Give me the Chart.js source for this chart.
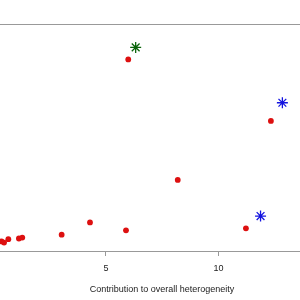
<!DOCTYPE html>
<html>
<head>
<meta charset="utf-8">
<script src="https://cdn.jsdelivr.net/npm/chart.js@4"></script>
<style>
  html, body { margin: 0; padding: 0; background: #fff; overflow: hidden; }
  /* the plot box is wider than the view, as in the cropped original */
  #wrap { width: 300px; height: 300px; overflow: hidden; }
</style>
</head>
<body>
<div id="wrap"><canvas id="baujat" width="324" height="300"></canvas></div>
<script>
// studies (red dots): contribution to heterogeneity vs influence
const studyX = [0.36, 0.47, 0.66, 1.13, 1.28, 3.03, 4.29, 5.89, 5.99, 8.19, 11.22, 12.33];
const studyY = [0.42, 0.37, 0.52, 0.55, 0.59, 0.72, 1.26, 0.91, 8.44, 3.13, 1.00, 5.73];
// highlighted studies (stars)
const greenX = [6.32];
const greenY = [8.97];
const blueX = [12.84, 11.87];
const blueY = [6.53, 1.54];

const xTicks = [5, 10];
const xLabel = "Contribution to overall heterogeneity";

const toPoints = (xs, ys) => xs.map((x, i) => ({ x: x, y: ys[i] }));

const ctx = document.getElementById("baujat").getContext("2d");

new Chart(ctx, {
    type: "scatter",
    data: {
        datasets: [
            {
                data: toPoints(studyX, studyY),
                pointStyle: "circle",
                pointRadius: 2.9,
                backgroundColor: "#dd1010",
                borderColor: "#dd1010",
                borderWidth: 0
            },
            {
                data: toPoints(greenX, greenY),
                pointStyle: "star",
                pointRadius: 5.5,
                borderColor: "#0a640a",
                borderWidth: 1.3
            },
            {
                data: toPoints(blueX, blueY),
                pointStyle: "star",
                pointRadius: 5.5,
                borderColor: "#1414e0",
                borderWidth: 1.3
            }
        ]
    },
    options: {
        responsive: false,
        animation: false,
        // plot box runs off both edges, so no auto padding for the markers
        layout: { autoPadding: false, padding: { top: 24, left: 0, right: 0, bottom: 0 } },
        plugins: {
            legend: { display: false },
            tooltip: { enabled: false }
        },
        scales: {
            x: {
                type: "linear",
                position: "bottom",
                min: 0.29,
                max: 14.69,
                afterBuildTicks(scale) {
                    scale.ticks = xTicks.map(v => ({ value: v }));
                },
                afterFit(scale) {
                    scale.height = 49;
                },
                grid: {
                    display: true,
                    drawOnChartArea: false,
                    drawTicks: true,
                    tickLength: 5,
                    color: "#999"
                },
                border: { display: true, color: "#999", width: 1 },
                ticks: {
                    padding: 7,
                    color: "#222",
                    font: { family: "Liberation Sans, Arial, sans-serif", size: 9 },
                    maxRotation: 0
                },
                title: {
                    display: true,
                    text: xLabel,
                    color: "#222",
                    font: { family: "Liberation Sans, Arial, sans-serif", size: 9 },
                    padding: { top: 0, bottom: 5 }
                }
            },
            xTop: {
                type: "linear",
                position: "top",
                grid: { display: false, drawTicks: false },
                border: { display: true, color: "#999", width: 1 },
                ticks: { display: false }
            },
            y: {
                type: "linear",
                display: false,
                min: 0,
                max: 10
            }
        }
    }
});
</script>
</body>
</html>
